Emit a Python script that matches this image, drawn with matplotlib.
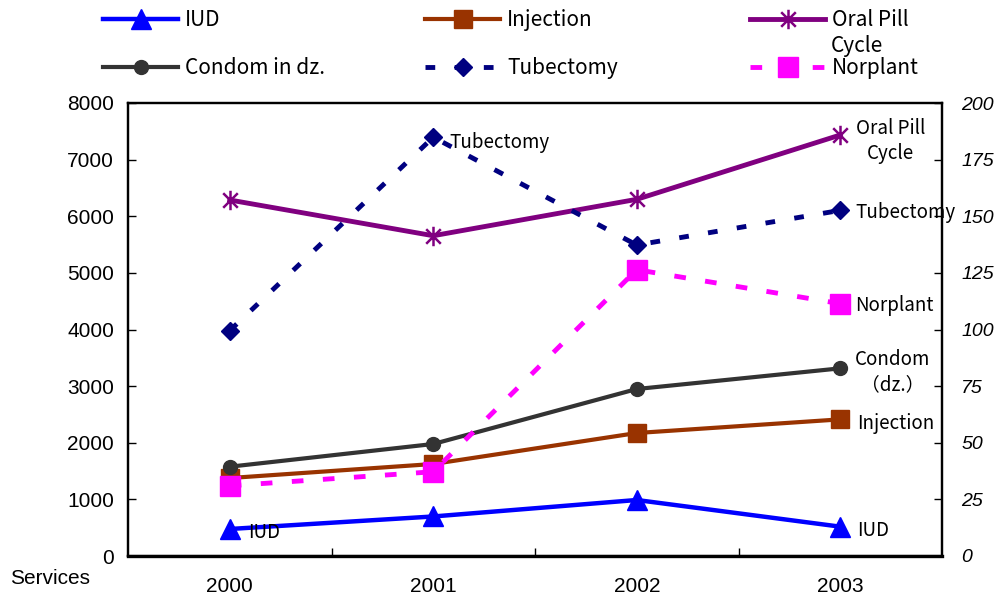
import matplotlib
matplotlib.use('Agg')
import matplotlib.pyplot as plt
from matplotlib.ticker import FixedLocator, NullFormatter
from matplotlib.path import Path

# ---- data ----
years = ['2000', '2001', '2002', '2003']
iud = [477, 698, 989, 518]
injection = [1377, 1625, 2172, 2413]
oral_pill = [6287, 5656, 6299, 7435]
condom = [1577, 1978, 2949, 3314]
tubectomy = [99.5, 184.9, 137.3, 152.6]   # right axis
norplant = [31.0, 37.2, 126.4, 111.4]     # right axis

left_ticks = list(range(0, 8001, 1000))
right_ticks = list(range(0, 201, 25))

W, H = 997, 598
fig = plt.figure(figsize=(W / 100, H / 100), dpi=100)
L, R, T, B = 128, 942, 103, 556
ax = fig.add_axes([L / W, 1 - B / H, (R - L) / W, (B - T) / H])
ax2 = ax.twinx()

# Excel-like star marker: X plus a vertical bar
star = Path([(0, -1), (0, 1), (-0.75, -0.75), (0.75, 0.75),
             (-0.75, 0.75), (0.75, -0.75)],
            [Path.MOVETO, Path.LINETO, Path.MOVETO, Path.LINETO,
             Path.MOVETO, Path.LINETO])

xs = list(range(len(years)))
lab_font = 'Liberation Sans'
cjk = ['Noto Sans CJK JP', 'DejaVu Sans']

l_iud, = ax.plot(xs, iud, color='#0000FF', lw=3.2, marker='^', ms=14,
                 label='IUD', zorder=3)
l_inj, = ax.plot(xs, injection, color='#993300', lw=3.0, marker='s', ms=13,
                 label='Injection', zorder=3)
l_oral, = ax.plot(xs, oral_pill, color='#800080', lw=3.5, marker=star,
                  ms=14, mew=1.8, mfc='none', mec='#800080',
                  label='Oral Pill', zorder=3)
l_con, = ax.plot(xs, condom, color='#333333', lw=3.0, marker='o', ms=10,
                 label='Condom in dz.', zorder=4)
l_tub, = ax2.plot(xs, tubectomy, color='#000080', lw=3.5, marker='D', ms=9.5,
                  dashes=(2.0, 4.0), label='Tubectomy', zorder=3)
l_nor, = ax2.plot(xs, norplant, color='#FF00FF', lw=3.5, marker='s', ms=14,
                  dashes=(2.4, 4.0), label='Norplant', zorder=3)

ax.set_xlim(-0.5, len(years) - 0.5)
ax.set_ylim(0, 8000)
ax2.set_ylim(0, 200)

ax.set_xticks(xs)
ax.set_xticklabels(years, fontsize=15, family=lab_font)
ax.xaxis.set_minor_locator(FixedLocator([0.5, 1.5, 2.5]))
ax.xaxis.set_minor_formatter(NullFormatter())
ax.tick_params(axis='x', which='major', length=0, pad=15)
ax.tick_params(axis='x', which='minor', direction='in', length=6, width=1)

ax.set_yticks(left_ticks)
ax.set_yticklabels([str(v) for v in left_ticks], fontsize=15, family=lab_font)
ax.tick_params(axis='y', direction='in', length=6, width=1, pad=10)

ax2.set_yticks(right_ticks)
ax2.set_yticklabels([str(v) for v in right_ticks], fontsize=14,
                    family=lab_font, style='italic')
ax2.tick_params(axis='y', direction='in', length=6, width=1, pad=14)

for a in (ax, ax2):
    for s in a.spines.values():
        s.set_linewidth(1.6)
ax.spines['bottom'].set_linewidth(2.4)

# ---- end labels ----
def px(v):
    return v * 0.72

ann_kw = dict(textcoords='offset points', fontsize=13.5, family=cjk,
              color='black', zorder=6)
ax.annotate('Oral Pill\nCycle', xy=(3, oral_pill[3]), xytext=(px(50), px(-6)),
            ha='center', va='center', linespacing=1.25, **ann_kw)
ax2.annotate('Tubectomy', xy=(3, tubectomy[3]), xytext=(px(15), px(-2)),
             ha='left', va='center', **ann_kw)
ax2.annotate('Norplant', xy=(3, norplant[3]), xytext=(px(15), px(-2)),
             ha='left', va='center', **ann_kw)
ax.annotate('Condom\n（dz.）', xy=(3, condom[3]), xytext=(px(52), px(-4)),
            ha='center', va='center', linespacing=1.25, **ann_kw)
ax.annotate('Injection', xy=(3, injection[3]), xytext=(px(17), px(-4)),
            ha='left', va='center', **ann_kw)
ax.annotate('IUD', xy=(3, iud[3]), xytext=(px(17), px(-4)),
            ha='left', va='center', **ann_kw)
ax.annotate('IUD', xy=(0, iud[0]), xytext=(px(18), px(-4)),
            ha='left', va='center', **ann_kw)
ax2.annotate('Tubectomy', xy=(1, tubectomy[1]), xytext=(px(16), px(-5)),
             ha='left', va='center', **ann_kw)

fig.text(10 / W, 1 - 579 / H, 'Services', fontsize=15, family=lab_font,
         ha='left', va='center')

# ---- legend (one entry each, placed like the original) ----
legend_pos = [
    (l_iud, 103, 20), (l_inj, 425, 20), (l_oral, 750, 20),
    (l_con, 103, 68), (l_tub, 425, 68), (l_nor, 750, 68),
]
for h, lx, ly in legend_pos:
    fig.legend([h], [h.get_label()], loc='center left',
               bbox_to_anchor=(lx / W, 1 - ly / H), frameon=False,
               borderpad=0, borderaxespad=0, handlelength=3.6,
               handletextpad=0.35, prop={'family': cjk, 'size': 15})
fig.text(831 / W, 1 - 46 / H, 'Cycle', fontsize=15, family=cjk,
         ha='left', va='center')

fig.savefig('out.png', dpi=100)
